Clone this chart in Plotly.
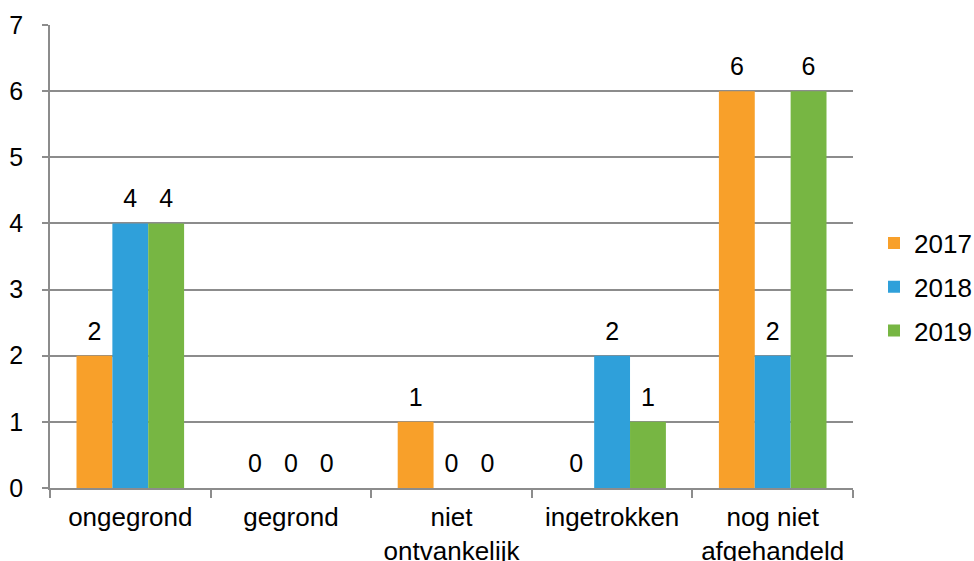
import plotly.graph_objects as go

categories = ["ongegrond", "gegrond", "niet<br>ontvankelijk", "ingetrokken", "nog niet<br>afgehandeld"]
years = ["2017", "2018", "2019"]
values_2017 = [2, 0, 1, 0, 6]
values_2018 = [4, 0, 0, 2, 2]
values_2019 = [4, 0, 0, 1, 6]
colors = ["#F8A02A", "#2FA0DA", "#77B643"]
y_ticks = [0, 1, 2, 3, 4, 5, 6, 7]

series = [values_2017, values_2018, values_2019]
font = "Liberation Sans, Arial, sans-serif"
FS = 26
W, H = 974, 561

fig = go.Figure()
for yr, vals, col in zip(years, series, colors):
    fig.add_trace(go.Bar(
        x=categories, y=vals, name=yr, marker=dict(color=col, line=dict(width=0)),
        offsetgroup=yr, legendgroup=yr,
    ))
for yr, vals in zip(years, series):
    fig.add_trace(go.Scatter(
        x=categories, y=vals, mode="markers+text", offsetgroup=yr,
        marker=dict(size=14, opacity=0), text=[str(v) for v in vals],
        textposition="top center", textfont=dict(family=font, size=25, color="#000000"),
        showlegend=False, hoverinfo="skip", cliponaxis=False, legendgroup=yr,
    ))

fig.update_layout(
    width=W, height=H,
    margin=dict(l=50, r=121, t=25, b=73),
    paper_bgcolor="white", plot_bgcolor="white",
    barmode="group", bargap=0.33, bargroupgap=0,
    scattermode="group", scattergap=0.33,
    font=dict(family=font, size=FS, color="#000000"),
    showlegend=True,
    legend=dict(xref="container", yref="container", x=874 / W, xanchor="left",
                y=1 - 287 / H, yanchor="middle",
                font=dict(family=font, size=FS, color="#000000"),
                tracegroupgap=7, traceorder="grouped", itemwidth=30),
    xaxis=dict(showline=True, linecolor="#8C8C8C", linewidth=1.5, automargin=False,
               ticks="outside", tickson="boundaries", ticklen=8, tickcolor="#8C8C8C",
               tickwidth=1.5, showgrid=False, tickfont=dict(size=FS), ticklabelstandoff=5),
    yaxis=dict(range=[0, 7], tickvals=y_ticks, showline=True, linecolor="#8C8C8C",
               linewidth=1.5, ticks="outside", ticklen=6, tickcolor="#8C8C8C", tickwidth=1.5,
               showgrid=True, gridcolor="#8C8C8C", gridwidth=1.5, zeroline=False,
               automargin=False, tickfont=dict(size=25), ticklabelstandoff=14),
)

fig.write_html(
    "out.html",
    config={"displayModeBar": False},
    post_script="document.body.style.margin='0';document.body.style.overflow='hidden';",
)
